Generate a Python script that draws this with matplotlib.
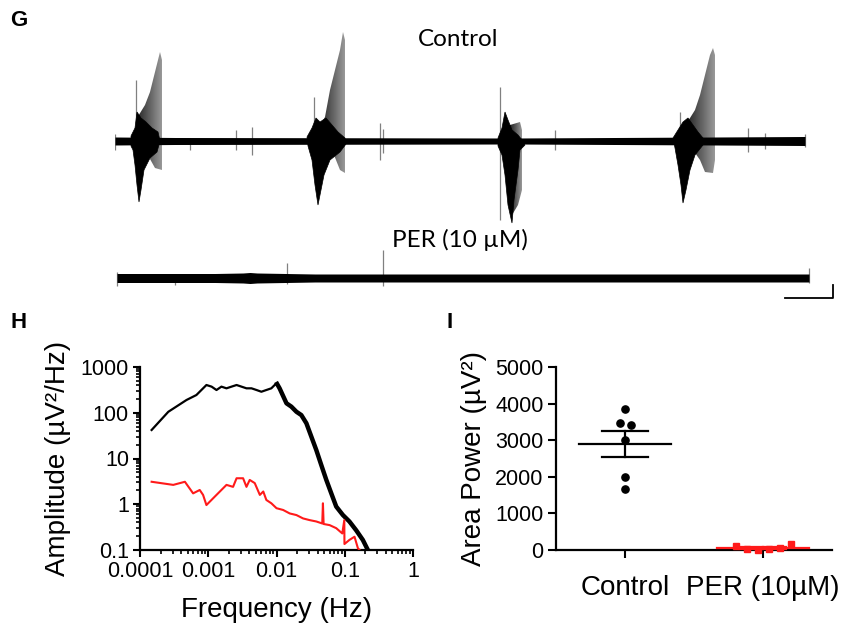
import numpy as np
import matplotlib.pyplot as plt
from matplotlib.patches import Polygon
from matplotlib.ticker import FixedLocator, FixedFormatter, LogLocator, NullFormatter

# ---------------- G: raw traces (time in s, amplitude in a.u.) ----------------
ctrl_band_t = [0, 60, 200, 400, 600, 690]
ctrl_band_hw = [4, 3.5, 3.3, 3, 4, 4.5]

# burst envelopes (time, amplitude) - black core and grey ramp
b1_core = [(16, 5), (20, 13), (22, 29), (26, 23), (31, 19), (37, 13), (43, 9), (45, 0), (42, -11),
           (35, -17), (29, -29), (26, -49), (24, -61), (22, -44), (20, -24), (18, -9), (16, -5)]
b1_ramp = [(20, 6), (22, 23), (30, 36), (35, 49), (40, 69), (45, 89), (47, 81), (47, -29),
           (40, -27), (30, -9), (25, -7)]
b2_core = [(192, 4), (197, 13), (201, 23), (205, 19), (211, 23), (217, 16), (223, 9), (230, 3),
           (231, -3), (225, -11), (215, -19), (209, -34), (205, -54), (203, -64), (200, -44),
           (197, -19), (193, -5)]
b2_ramp = [(203, 11), (210, 24), (215, 51), (220, 71), (225, 91), (228, 109), (230, 101),
           (230, -32), (225, -29), (217, -9), (210, -4)]
b3_core = [(383, 3), (387, 13), (390, 29), (393, 21), (397, 11), (403, 6), (407, 1), (410, -4),
           (405, -9), (403, -29), (399, -59), (397, -82), (393, -64), (390, -34), (387, -14), (383, -5)]
b3_ramp = [(395, 16), (405, 19), (407, 11), (407, -49), (403, -64), (397, -74)]
b4_core = [(558, 3), (563, 11), (568, 19), (573, 23), (578, 16), (583, 9), (588, 3), (588, -4),
           (580, -14), (575, -29), (571, -49), (568, -62), (566, -44), (563, -24), (560, -7)]
b4_ramp = [(570, 16), (575, 23), (580, 31), (585, 46), (590, 66), (595, 86), (598, 93), (600, 86),
           (600, -19), (598, -32), (590, -31), (585, -19), (578, -9)]

ctrl_spk_t = [0, 21, 75, 121, 137, 199, 265, 268, 385, 440, 565, 633, 650, 690]
ctrl_spk_top = [7, 61, 3, 11, 14, 44, 18, 12, 54, 11, 29, 13, 8, 7]
ctrl_spk_bot = [-9, -19, -9, -9, -14, -10, -19, -12, -79, -9, -17, -11, -8, -6]

per_band_t = [2, 100, 128, 135, 142, 200, 400, 600, 694]
per_band_hw = [4.5, 4.5, 5, 5.5, 5, 4, 4, 4, 4]
per_spk_t = [2, 60, 172, 268, 694]
per_spk_top = [6, 4, 15, 28, 10]
per_spk_bot = [-8, -7, -6, -8, -5]

scalebar_t = 48
scalebar_v = 13

# ---------------- H: power spectra ----------------
ctrl_f = [1.48e-4, 2.6e-4, 4.8e-4, 6.7e-4, 9.4e-4, 1.12e-3, 1.32e-3, 1.56e-3, 1.85e-3, 2.19e-3,
          2.6e-3, 3.07e-3, 3.63e-3, 4.3e-3, 5.1e-3, 6.0e-3, 7.1e-3, 8.4e-3, 9.4e-3, 0.0102,
          0.0111, 0.014, 0.0165, 0.0196, 0.0231, 0.0274, 0.0324, 0.0383, 0.0453, 0.0537,
          0.0635, 0.075, 0.094, 0.117, 0.147, 0.184, 0.218]
ctrl_amp = [42, 105, 190, 244, 404, 372, 314, 372, 342, 372,
            404, 372, 342, 342, 314, 288, 314, 342, 404, 427,
            342, 161, 136, 105, 89, 59, 30, 15.3, 7.2, 3.4,
            1.73, 0.89, 0.58, 0.42, 0.27, 0.166, 0.1]
per_f = [1.48e-4, 3.07e-4, 4.55e-4, 6.0e-4, 7.5e-4, 8.4e-4, 9.4e-4, 1.32e-3, 1.85e-3, 2.31e-3,
         2.6e-3, 3.24e-3, 3.63e-3, 4.05e-3, 4.8e-3, 5.7e-3, 6.4e-3, 7.1e-3, 8.4e-3, 0.01,
         0.0125, 0.0156, 0.0196, 0.0245, 0.0306, 0.0383, 0.0468, 0.0479, 0.049, 0.06,
         0.075, 0.092, 0.0985, 0.099, 0.117, 0.139, 0.156, 0.165]
per_amp = [3.1, 2.65, 3.1, 1.73, 2.05, 1.6, 0.96, 1.6, 2.65, 2.4,
           3.7, 3.7, 2.4, 3.4, 2.9, 1.6, 1.9, 1.24, 1.05, 0.82,
           0.75, 0.63, 0.58, 0.49, 0.45, 0.42, 0.38, 1.05, 0.37, 0.35,
           0.30, 0.23, 0.45, 0.135, 0.166, 0.195, 0.109, 0.1]
h_xticks = [1e-4, 1e-3, 1e-2, 1e-1, 1]
h_xlabels = ['0.0001', '0.001', '0.01', '0.1', '1']
h_yticks = [0.1, 1, 10, 100, 1000]
h_ylabels = ['0.1', '1', '10', '100', '1000']

# ---------------- I: area power ----------------
groups = ['Control', 'PER (10\u00b5M)']
ctrl_area = [3864, 3482, 3409, 3000, 2000, 1655]
per_area = [117, 27, 5, 20, 63, 164]

W, H = 842, 626
fig = plt.figure(figsize=(W / 100, H / 100), dpi=100)


def px_rect(l, t, r, b):
    return [l / W, 1 - b / H, (r - l) / W, (b - t) / H]


calib = ['Lato', 'DejaVu Sans']
arial = ['Liberation Sans', 'DejaVu Sans']


def draw_ramp(ax, pts):
    pts = np.array(pts, dtype=float)
    poly = Polygon(pts, closed=True, facecolor='none', edgecolor='none')
    ax.add_patch(poly)
    grad = np.linspace(0.12, 0.6, 64)[None, :]
    im = ax.imshow(grad, extent=[pts[:, 0].min(), pts[:, 0].max(), pts[:, 1].min(), pts[:, 1].max()],
                   cmap='gray', vmin=0, vmax=1, aspect='auto', origin='lower', zorder=2,
                   interpolation='bilinear')
    im.set_clip_path(poly)


ax_c = fig.add_axes(px_rect(115, 25, 835, 235))
ax_c.vlines(ctrl_spk_t, ctrl_spk_bot, ctrl_spk_top, color='0.5', lw=0.9, zorder=1)
for ramp in [b1_ramp, b2_ramp, b3_ramp, b4_ramp]:
    draw_ramp(ax_c, ramp)
for core in [b1_core, b2_core, b3_core, b4_core]:
    ax_c.add_patch(Polygon(core, closed=True, facecolor='black', edgecolor='black', lw=0.5, zorder=3))
ax_c.fill_between(ctrl_band_t, -np.array(ctrl_band_hw), ctrl_band_hw, color='black', lw=0, zorder=3)
ax_c.set_xlim(0, 720)
ax_c.set_ylim(-94, 116)
ax_c.axis('off')

ax_p = fig.add_axes(px_rect(115, 245, 835, 310))
ax_p.vlines(per_spk_t, per_spk_bot, per_spk_top, color='0.5', lw=0.9, zorder=1)
ax_p.fill_between(per_band_t, -np.array(per_band_hw), per_band_hw, color='black', lw=0, zorder=3)
ax_p.plot([670, 670 + scalebar_t, 670 + scalebar_t], [-20, -20, -20 + scalebar_v],
          color='black', lw=1.3, clip_on=False)
ax_p.set_xlim(0, 720)
ax_p.set_ylim(-32, 33)
ax_p.axis('off')

fig.text(458 / W, 1 - 40 / H, 'Control', ha='center', va='center', fontsize=17.5, family=calib)
fig.text(460 / W, 1 - 240 / H, 'PER (10 \u00b5M)', ha='center', va='center', fontsize=17.5, family=calib)
fig.text(10 / W, 1 - 21 / H, 'G', ha='left', va='center', fontsize=16, fontweight='bold', family=arial)
fig.text(11 / W, 1 - 322 / H, 'H', ha='left', va='center', fontsize=16, fontweight='bold', family=arial)
fig.text(446 / W, 1 - 322 / H, 'I', ha='left', va='center', fontsize=16, fontweight='bold', family=arial)

# ---------------- H ----------------
axh = fig.add_axes(px_rect(140, 367, 413, 550))
axh.plot(ctrl_f, ctrl_amp, color='black', lw=1.6, zorder=3)
hi = np.array(ctrl_f) >= 0.0095
axh.plot(np.array(ctrl_f)[hi], np.array(ctrl_amp)[hi], color='black', lw=3.2, zorder=3)
axh.plot(per_f, per_amp, color='#ff1a1a', lw=1.5, zorder=4)
axh.set_xscale('log')
axh.set_yscale('log')
axh.set_xlim(1e-4, 1)
axh.set_ylim(0.1, 1000)
axh.xaxis.set_major_locator(FixedLocator(h_xticks))
axh.xaxis.set_major_formatter(FixedFormatter(h_xlabels))
axh.yaxis.set_major_locator(FixedLocator(h_yticks))
axh.yaxis.set_major_formatter(FixedFormatter(h_ylabels))
for a in (axh.xaxis, axh.yaxis):
    a.set_minor_locator(LogLocator(base=10, subs=np.arange(2, 10)))
    a.set_minor_formatter(NullFormatter())
axh.set_xlabel('Frequency (Hz)', fontsize=20, family=arial, labelpad=11)
axh.set_ylabel('Amplitude (\u00b5V\u00b2/Hz)', fontsize=20, family=arial, labelpad=7)

# ---------------- I ----------------
axi = fig.add_axes(px_rect(556, 367, 832, 550))
axi.set_xlim(-0.5, 1.5)
axi.set_ylim(0, 5000)
bb = axi.get_window_extent()
xpx = bb.width / 2.0
ypx = bb.height / 5000.0


def swarm_offsets(vals, spacing):
    vals = np.asarray(vals, dtype=float)
    order = np.argsort(vals)
    grp, cur = [], [order[0]]
    for a, b in zip(order[:-1], order[1:]):
        if (vals[b] - vals[a]) * ypx < spacing:
            cur.append(b)
        else:
            grp.append(cur)
            cur = [b]
    grp.append(cur)
    off = np.zeros(len(vals))
    for g in grp:
        g = sorted(g)
        for k, i in enumerate(g):
            off[i] = (k - (len(g) - 1) / 2) * spacing / xpx
    return off


for i, (vals, col, mk, ms) in enumerate([(ctrl_area, 'black', 'o', 5.2),
                                         (per_area, '#ff1a1a', 's', 4.6)]):
    v = np.array(vals, dtype=float)
    m = v.mean()
    sem = v.std(ddof=1) / np.sqrt(len(v))
    axi.plot(i + swarm_offsets(v, 11), v, linestyle='none', marker=mk, ms=ms, color=col,
             clip_on=False, zorder=3)
    axi.plot([i - 0.33, i + 0.33], [m, m], color=col, lw=1.6, zorder=4, clip_on=False)
    axi.plot([i - 0.17, i + 0.17], [m + sem, m + sem], color=col, lw=1.6, zorder=4, clip_on=False)
    axi.plot([i - 0.17, i + 0.17], [m - sem, m - sem], color=col, lw=1.6, zorder=4, clip_on=False)
    axi.plot([i, i], [m - sem, m + sem], color=col, lw=1.6, zorder=4, clip_on=False)

axi.set_xticks([0, 1])
axi.set_xticklabels(groups)
axi.set_yticks(np.arange(0, 5001, 1000))
axi.set_ylabel('Area Power (\u00b5V\u00b2)', fontsize=20, family=arial, labelpad=6)

for ax in (axh, axi):
    for s in ('top', 'right'):
        ax.spines[s].set_visible(False)
    for s in ('left', 'bottom'):
        ax.spines[s].set_linewidth(1.6)
    ax.tick_params(which='major', direction='out', length=5, width=1.5, labelsize=15.5, pad=3)
    ax.tick_params(which='minor', direction='out', length=3, width=1.2)
    for lab in ax.get_xticklabels() + ax.get_yticklabels():
        lab.set_family(arial)

axi.tick_params(axis='x', which='major', length=6, labelsize=20, pad=12)
axi.tick_params(axis='y', which='major', length=6)

fig.savefig('out.png', dpi=100)
